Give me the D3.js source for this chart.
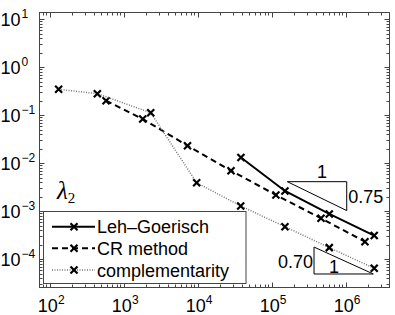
<!DOCTYPE html>
<html lang="en">
<head>
<meta charset="UTF-8" />
<title>lambda2 convergence</title>
<style>
  body { margin: 0; background: #fff; }
  text { font-family: "Liberation Sans", Arial, Helvetica, sans-serif; }
</style>
</head>
<body>
<div id="container"></div>
<script src="https://cdnjs.cloudflare.com/ajax/libs/d3/7.8.5/d3.min.js"></script>
<script>
    // data (number of unknowns vs error of lambda_2)
    let lgX = [3.84e4, 1.51e5, 6.0e5, 2.43e6],
        lgY = [1.32e-2, 2.65e-3, 8.8e-4, 3.12e-4];
    let crX = [577, 1807, 7280, 2.82e4, 1.14e5, 4.64e5, 1.82e6],
        crY = [0.201, 0.0838, 0.0233, 7.01e-3, 2.19e-3, 7.15e-4, 2.33e-4];
    let compX = [132, 440, 2318, 9680, 3.81e4, 1.51e5, 6.0e5, 2.43e6],
        compY = [0.348, 0.282, 0.113, 3.94e-3, 1.29e-3, 4.78e-4, 1.75e-4, 6.5e-5];
    let seriesNames = ["Leh\u2013Goerisch", "CR method", "complementarity"];
    let xTickExp = [2, 3, 4, 5, 6],
        yTickExp = [1, 0, -1, -2, -3, -4];
    // slope triangles: [x0, x1, y at the corner, rate]
    let triUpper = [10 ** 5.211, 10 ** 6.014, 10 ** -2.383, 0.75],
        triLower = [10 ** 5.572, 10 ** 6.373, 10 ** -4.306, 0.70];

    let W = 395, H = 315,
        L = 39.5, R = 389.5, T = 12.5, B = 287.5;

    let x = d3.scaleLog().domain([10 ** 1.862, 10 ** 6.592]).range([L, R]);
    let y = d3.scaleLog().domain([10 ** -4.5875, 10 ** 1.1417]).range([B, T]);

    let svg = d3.select("#container").append("svg").attr("width", W).attr("height", H);

    // ticks on all four sides
    function minors(dom) {
        let out = [];
        let lo = Math.floor(Math.log10(dom[0])), hi = Math.ceil(Math.log10(dom[1]));
        for (let e = lo; e <= hi; e++)
            for (let k = 1; k < 10; k++) {
                let v = k * 10 ** e;
                if (v >= dom[0] && v <= dom[1]) out.push({ v: v, major: k === 1 });
            }
        return out;
    }
    let tg = svg.append("g").attr("stroke", "#444").attr("stroke-width", 1);
    minors(x.domain()).forEach(t => {
        let px = Math.round(x(t.v)) + 0.5, len = t.major ? 5 : 3;
        tg.append("line").attr("x1", px).attr("x2", px).attr("y1", B).attr("y2", B - len);
        tg.append("line").attr("x1", px).attr("x2", px).attr("y1", T).attr("y2", T + len);
    });
    minors(y.domain()).forEach(t => {
        let py = Math.round(y(t.v)) + 0.5, len = t.major ? 5 : 3;
        tg.append("line").attr("y1", py).attr("y2", py).attr("x1", L).attr("x2", L + len);
        tg.append("line").attr("y1", py).attr("y2", py).attr("x1", R).attr("x2", R - len);
    });
    svg.append("rect").attr("x", L).attr("y", T).attr("width", R - L).attr("height", B - T)
        .attr("fill", "none").attr("stroke", "#444").attr("stroke-width", 1);

    // tick labels 10^n
    xTickExp.forEach(e => {
        let t = svg.append("text").attr("x", x(10 ** e) + 1.5).attr("y", 311.5)
            .attr("text-anchor", "middle").attr("font-size", 18).text("10");
        t.append("tspan").attr("dy", -8).attr("font-size", 12).text(e < 0 ? "\u2212" + (-e) : e);
    });
    yTickExp.forEach(e => {
        let t = svg.append("text").attr("x", 0.5).attr("y", y(10 ** e) + 7)
            .attr("font-size", 18).text("10");
        t.append("tspan").attr("dy", -8).attr("dx", 1).attr("font-size", 12).text(e < 0 ? "\u2212" + (-e) : e);
    });

    // slope triangles
    let tri = svg.append("g").attr("fill", "none").attr("stroke", "#000").attr("stroke-width", 1);
    {
        let [x0, x1, y0, s] = triUpper, y1 = y0 / (x1 / x0) ** s;
        tri.append("path").attr("d", `M${x(x0)},${y(y0)}H${x(x1)}V${y(y1)}Z`);
        svg.append("text").attr("x", (x(x0) + x(x1)) / 2 + 5).attr("y", y(y0) - 3.5)
            .attr("text-anchor", "middle").attr("font-size", 18).text("1");
        svg.append("text").attr("x", x(x1) + 1.5).attr("y", (y(y0) + y(y1)) / 2 + 7)
            .attr("font-size", 18).text(s.toFixed(2));
    }
    {
        let [x0, x1, y1, s] = triLower, y0 = y1 * (x1 / x0) ** s;
        tri.append("path").attr("d", `M${x(x0)},${y(y0)}V${y(y1)}H${x(x1)}Z`);
        svg.append("text").attr("x", x(x0) + 20).attr("y", y(y1) - 0.5)
            .attr("text-anchor", "middle").attr("font-size", 18).text("1");
        svg.append("text").attr("x", x(x0) - 1).attr("y", (y(y0) + y(y1)) / 2 + 7)
            .attr("text-anchor", "end").attr("font-size", 18).text(s.toFixed(2));
    }

    // series
    let styles = [
        { stroke: "#000", width: 2, dash: null },
        { stroke: "#000", width: 2, dash: "6,4" },
        { stroke: "#777", width: 1.5, dash: "1,1.5" }
    ];
    let series = [[lgX, lgY], [crX, crY], [compX, compY]];
    let line = d3.line().x(d => x(d[0])).y(d => y(d[1]));
    function cross(g, cx, cy) {
        g.append("path").attr("d", `M${cx - 3.5},${cy - 3.5}L${cx + 3.5},${cy + 3.5}M${cx - 3.5},${cy + 3.5}L${cx + 3.5},${cy - 3.5}`)
            .attr("stroke", "#000").attr("stroke-width", 2.2).attr("fill", "none");
    }
    series.forEach((s, i) => {
        let pts = s[0].map((v, j) => [v, s[1][j]]);
        svg.append("path").datum(pts).attr("d", line).attr("fill", "none")
            .attr("stroke", styles[i].stroke).attr("stroke-width", styles[i].width)
            .attr("stroke-dasharray", styles[i].dash);
        let mg = svg.append("g");
        pts.forEach(p => cross(mg, x(p[0]), y(p[1])));
    });

    // lambda_2 label
    let lam = svg.append("text").attr("x", 57).attr("y", 199)
        .style("font-family", '"Liberation Serif", "DejaVu Serif", serif')
        .attr("font-style", "italic").attr("font-size", 25).text("\u03bb");
    lam.append("tspan").attr("dy", 4).attr("font-style", "normal").attr("font-size", 15).text("2");

    // legend
    let lg = svg.append("g");
    lg.append("rect").attr("x", 43.5).attr("y", 211.5).attr("width", 202.5).attr("height", 72)
        .attr("fill", "#fff").attr("stroke", "#444").attr("stroke-width", 1);
    let rowY = [226.7, 248.3, 270];
    seriesNames.forEach((n, i) => {
        lg.append("line").attr("x1", 52).attr("x2", 95).attr("y1", rowY[i]).attr("y2", rowY[i])
            .attr("stroke", styles[i].stroke).attr("stroke-width", styles[i].width)
            .attr("stroke-dasharray", styles[i].dash);
        cross(lg, 74, rowY[i]);
        lg.append("text").attr("x", 97).attr("y", rowY[i] + 6.5).attr("font-size", 18).text(n);
    });
</script>
</body>
</html>
